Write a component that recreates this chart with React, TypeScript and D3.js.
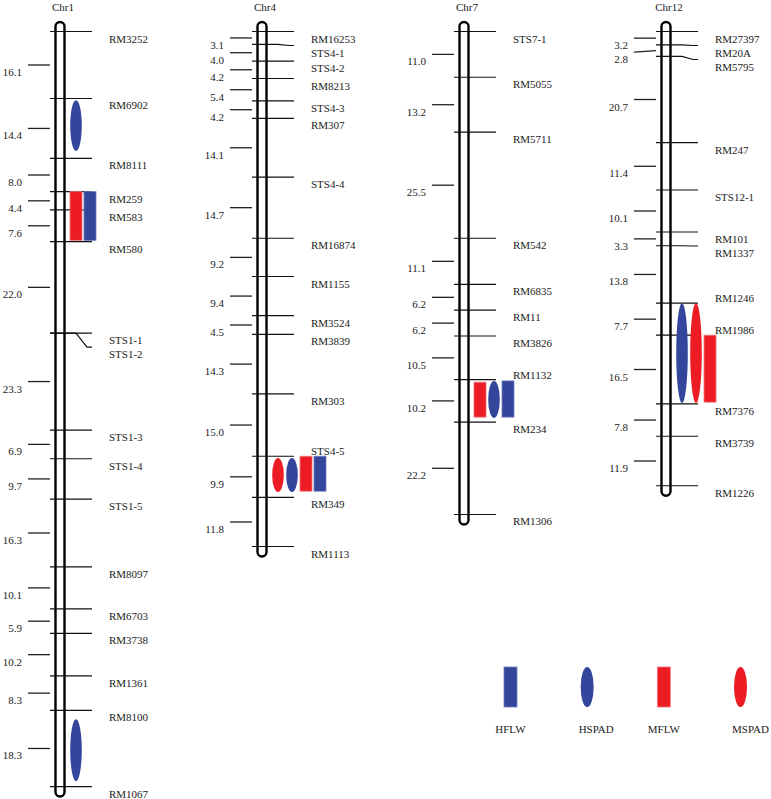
import React from "react";
import * as d3 from "d3";

// ---------- DATA ----------
const chromosomes = ["Chr1", "Chr4", "Chr7", "Chr12"];

const chr1Markers = ["RM3252", "RM6902", "RM8111", "RM259", "RM583", "RM580", "STS1-1", "STS1-2", "STS1-3", "STS1-4", "STS1-5", "RM8097", "RM6703", "RM3738", "RM1361", "RM8100", "RM1067"];
const chr1Distances = [16.1, 14.4, 8.0, 4.4, 7.6, 22.0, 0, 23.3, 6.9, 9.7, 16.3, 10.1, 5.9, 10.2, 8.3, 18.3];

const chr4Markers = ["RM16253", "STS4-1", "STS4-2", "RM8213", "STS4-3", "RM307", "STS4-4", "RM16874", "RM1155", "RM3524", "RM3839", "RM303", "STS4-5", "RM349", "RM1113"];
const chr4Distances = [3.1, 4.0, 4.2, 5.4, 4.2, 14.1, 14.7, 9.2, 9.4, 4.5, 14.3, 15.0, 9.9, 11.8];

const chr7Markers = ["STS7-1", "RM5055", "RM5711", "RM542", "RM6835", "RM11", "RM3826", "RM1132", "RM234", "RM1306"];
const chr7Distances = [11.0, 13.2, 25.5, 11.1, 6.2, 6.2, 10.5, 10.2, 22.2];

const chr12Markers = ["RM27397", "RM20A", "RM5795", "RM247", "STS12-1", "RM101", "RM1337", "RM1246", "RM1986", "RM7376", "RM3739", "RM1226"];
const chr12Distances = [3.2, 2.8, 20.7, 11.4, 10.1, 3.3, 13.8, 7.7, 16.5, 7.8, 11.9];

const markerLists = [chr1Markers, chr4Markers, chr7Markers, chr12Markers];
const distanceLists = [chr1Distances, chr4Distances, chr7Distances, chr12Distances];

// QTL intervals (cM)
const qtlChromosome = ["Chr1", "Chr1", "Chr1", "Chr1", "Chr4", "Chr4", "Chr4", "Chr4", "Chr7", "Chr7", "Chr7", "Chr12", "Chr12", "Chr12"];
const qtlTrait = ["HSPAD", "MFLW", "HFLW", "HSPAD", "MSPAD", "HSPAD", "MFLW", "HFLW", "MFLW", "HSPAD", "HFLW", "HSPAD", "MSPAD", "MFLW"];
const qtlStart = [16.5, 38.5, 38.5, 165.3, 102.5, 102.5, 102.1, 102.1, 84.3, 84.0, 84.0, 65.3, 65.3, 73.0];
const qtlEnd = [28.7, 50.2, 50.2, 180.2, 110.7, 110.7, 110.5, 110.5, 92.7, 92.9, 92.7, 89.3, 89.3, 89.1];

const traits = ["HFLW", "HSPAD", "MFLW", "MSPAD"];
const traitShape: Record<string, string> = { HFLW: "rect", HSPAD: "ellipse", MFLW: "rect", MSPAD: "ellipse" };
const traitColor: Record<string, string> = { HFLW: "#34469C", HSPAD: "#34469C", MFLW: "#ED1C24", MSPAD: "#ED1C24" };
const traitEdge: Record<string, string> = { HFLW: "#6F7CBF", HSPAD: "#34469C", MFLW: "#F3777C", MSPAD: "#ED1C24" };

// ---------- LAYOUT ----------
const W = 771;
const H = 799;
const FONT = "'Liberation Serif', 'Times New Roman', serif";

function pushDown(vals: number[], gap: number) {
  const out: number[] = [];
  let prev = -Infinity;
  vals.forEach((v) => {
    const n = Math.max(v, prev + gap);
    out.push(n);
    prev = n;
  });
  return out;
}

export default function App() {
  const y = d3.scaleLinear().domain([0, 200]).range([31.5, 31.5 + 200 * 4.16]);
  const x = d3.scalePoint<string>().domain(chromosomes).range([60, 666]);
  const legendX = d3.scalePoint<string>().domain(traits).range([510.5, 740.5]);

  const chrs = chromosomes.map((name, ci) => {
    const markers = markerLists[ci];
    const dists = distanceLists[ci];
    const pos = [0, ...d3.cumsum(dists)];
    return { name, markers, dists, pos: Array.from(pos) as number[] };
  });

  return (
    <svg
      width={W}
      height={H}
      viewBox={`0 0 ${W} ${H}`}
      style={{ position: "absolute", left: 0, top: 0, background: "#fff" }}
      fontFamily={FONT}
    >
      <rect x={0} y={0} width={W} height={H} fill="#fff" />
      {chrs.map((c) => {
        const cx = x(c.name)!;
        const my = c.pos.map((p) => y(p));

        // QTL column assignment
        const qIdx = qtlChromosome.map((q, i) => (q === c.name ? i : -1)).filter((i) => i >= 0);
        const cols: [number, number][][] = [];
        const qtls = qIdx.map((i) => {
          const s = qtlStart[i];
          const e = qtlEnd[i];
          let col = cols.findIndex((list) => list.every(([a, b]) => e <= a || s >= b));
          if (col < 0) {
            cols.push([]);
            col = cols.length - 1;
          }
          cols[col].push([s, e]);
          return { trait: qtlTrait[i], s, e, col };
        });
        const wideQtl = cols.length >= 3;
        // labels of markers at the top of a wide QTL stack sit above their line
        const above = c.pos.map(
          (p) => wideQtl && qtls.some((q) => Math.abs(q.s - p) < 2.5)
        );
        const desired = my.map((v, i) => (above[i] ? v - 1 : v + 11));
        const labelBase = pushDown(desired, 14);

        const ticks = c.dists
          .map((d, i) => ({ d, ty: (my[i] + my[i + 1]) / 2 }))
          .filter((t) => t.d > 0);
        const tickBase = pushDown(ticks.map((t) => t.ty + 11), 14);
        const top = my[0] - 9.5;
        const bottom = my[my.length - 1] + 10;

        return (
          <g key={c.name}>
            <text x={cx + 3} y={11} fontSize={11} textAnchor="middle" fill="#222">
              {c.name}
            </text>
            {/* distance ticks */}
            {ticks.map((t, i) => {
              const ay = tickBase[i] - 11;
              return (
                <g key={"t" + i}>
                  <line x1={cx - 32} x2={cx - 10} y1={ay} y2={t.ty} stroke="#222" strokeWidth={1.3} />
                  <text x={cx - 38} y={tickBase[i]} fontSize={11} textAnchor="end" fill="#222">
                    {t.d.toFixed(1)}
                  </text>
                </g>
              );
            })}
            {/* chromosome body */}
            <rect
              x={cx - 4.5}
              y={top}
              width={9}
              height={bottom - top}
              rx={4.5}
              ry={4.5}
              fill="#fff"
              stroke="#000"
              strokeWidth={2.4}
            />
            {/* markers */}
            {c.markers.map((m, i) => {
              const yy = my[i];
              const ay = yy + (labelBase[i] - desired[i]);
              const d =
                Math.abs(ay - yy) < 0.01
                  ? `M${cx - 10},${yy}H${cx + 32}`
                  : `M${cx - 10},${yy}H${cx + 16}L${cx + 27},${ay}H${cx + 32}`;
              return (
                <g key={m}>
                  <path d={d} fill="none" stroke="#111" strokeWidth={1.2} />
                  <text x={cx + 49} y={labelBase[i]} fontSize={11} fill="#222">
                    {m}
                  </text>
                </g>
              );
            })}
            {/* QTLs */}
            {qtls.map((q, i) => {
              const cc = cx + 16 + 14 * q.col;
              const y0 = y(q.s);
              const y1 = y(q.e);
              return traitShape[q.trait] === "rect" ? (
                <rect
                  key={"q" + i}
                  x={cc - 6}
                  y={y0}
                  width={12}
                  height={y1 - y0}
                  fill={traitColor[q.trait]}
                  stroke={traitEdge[q.trait]}
                  strokeWidth={0.8}
                />
              ) : (
                <ellipse
                  key={"q" + i}
                  cx={cc}
                  cy={(y0 + y1) / 2}
                  rx={5.8}
                  ry={(y1 - y0) / 2}
                  fill={traitColor[q.trait]}
                />
              );
            })}
          </g>
        );
      })}
      {/* legend */}
      {traits.map((t) => {
        const lx = legendX(t)!;
        const isRect = traitShape[t] === "rect";
        return (
          <g key={t}>
            {isRect ? (
              <rect x={lx - 6.5} y={667} width={13} height={40} fill={traitColor[t]} stroke={traitEdge[t]} strokeWidth={0.8} />
            ) : (
              <ellipse cx={lx} cy={687} rx={6.5} ry={20} fill={traitColor[t]} />
            )}
            <text
              x={isRect ? lx : lx - 8.5}
              y={733}
              fontSize={11}
              textAnchor={isRect ? "middle" : "start"}
              fill="#222"
            >
              {t}
            </text>
          </g>
        );
      })}
    </svg>
  );
}
